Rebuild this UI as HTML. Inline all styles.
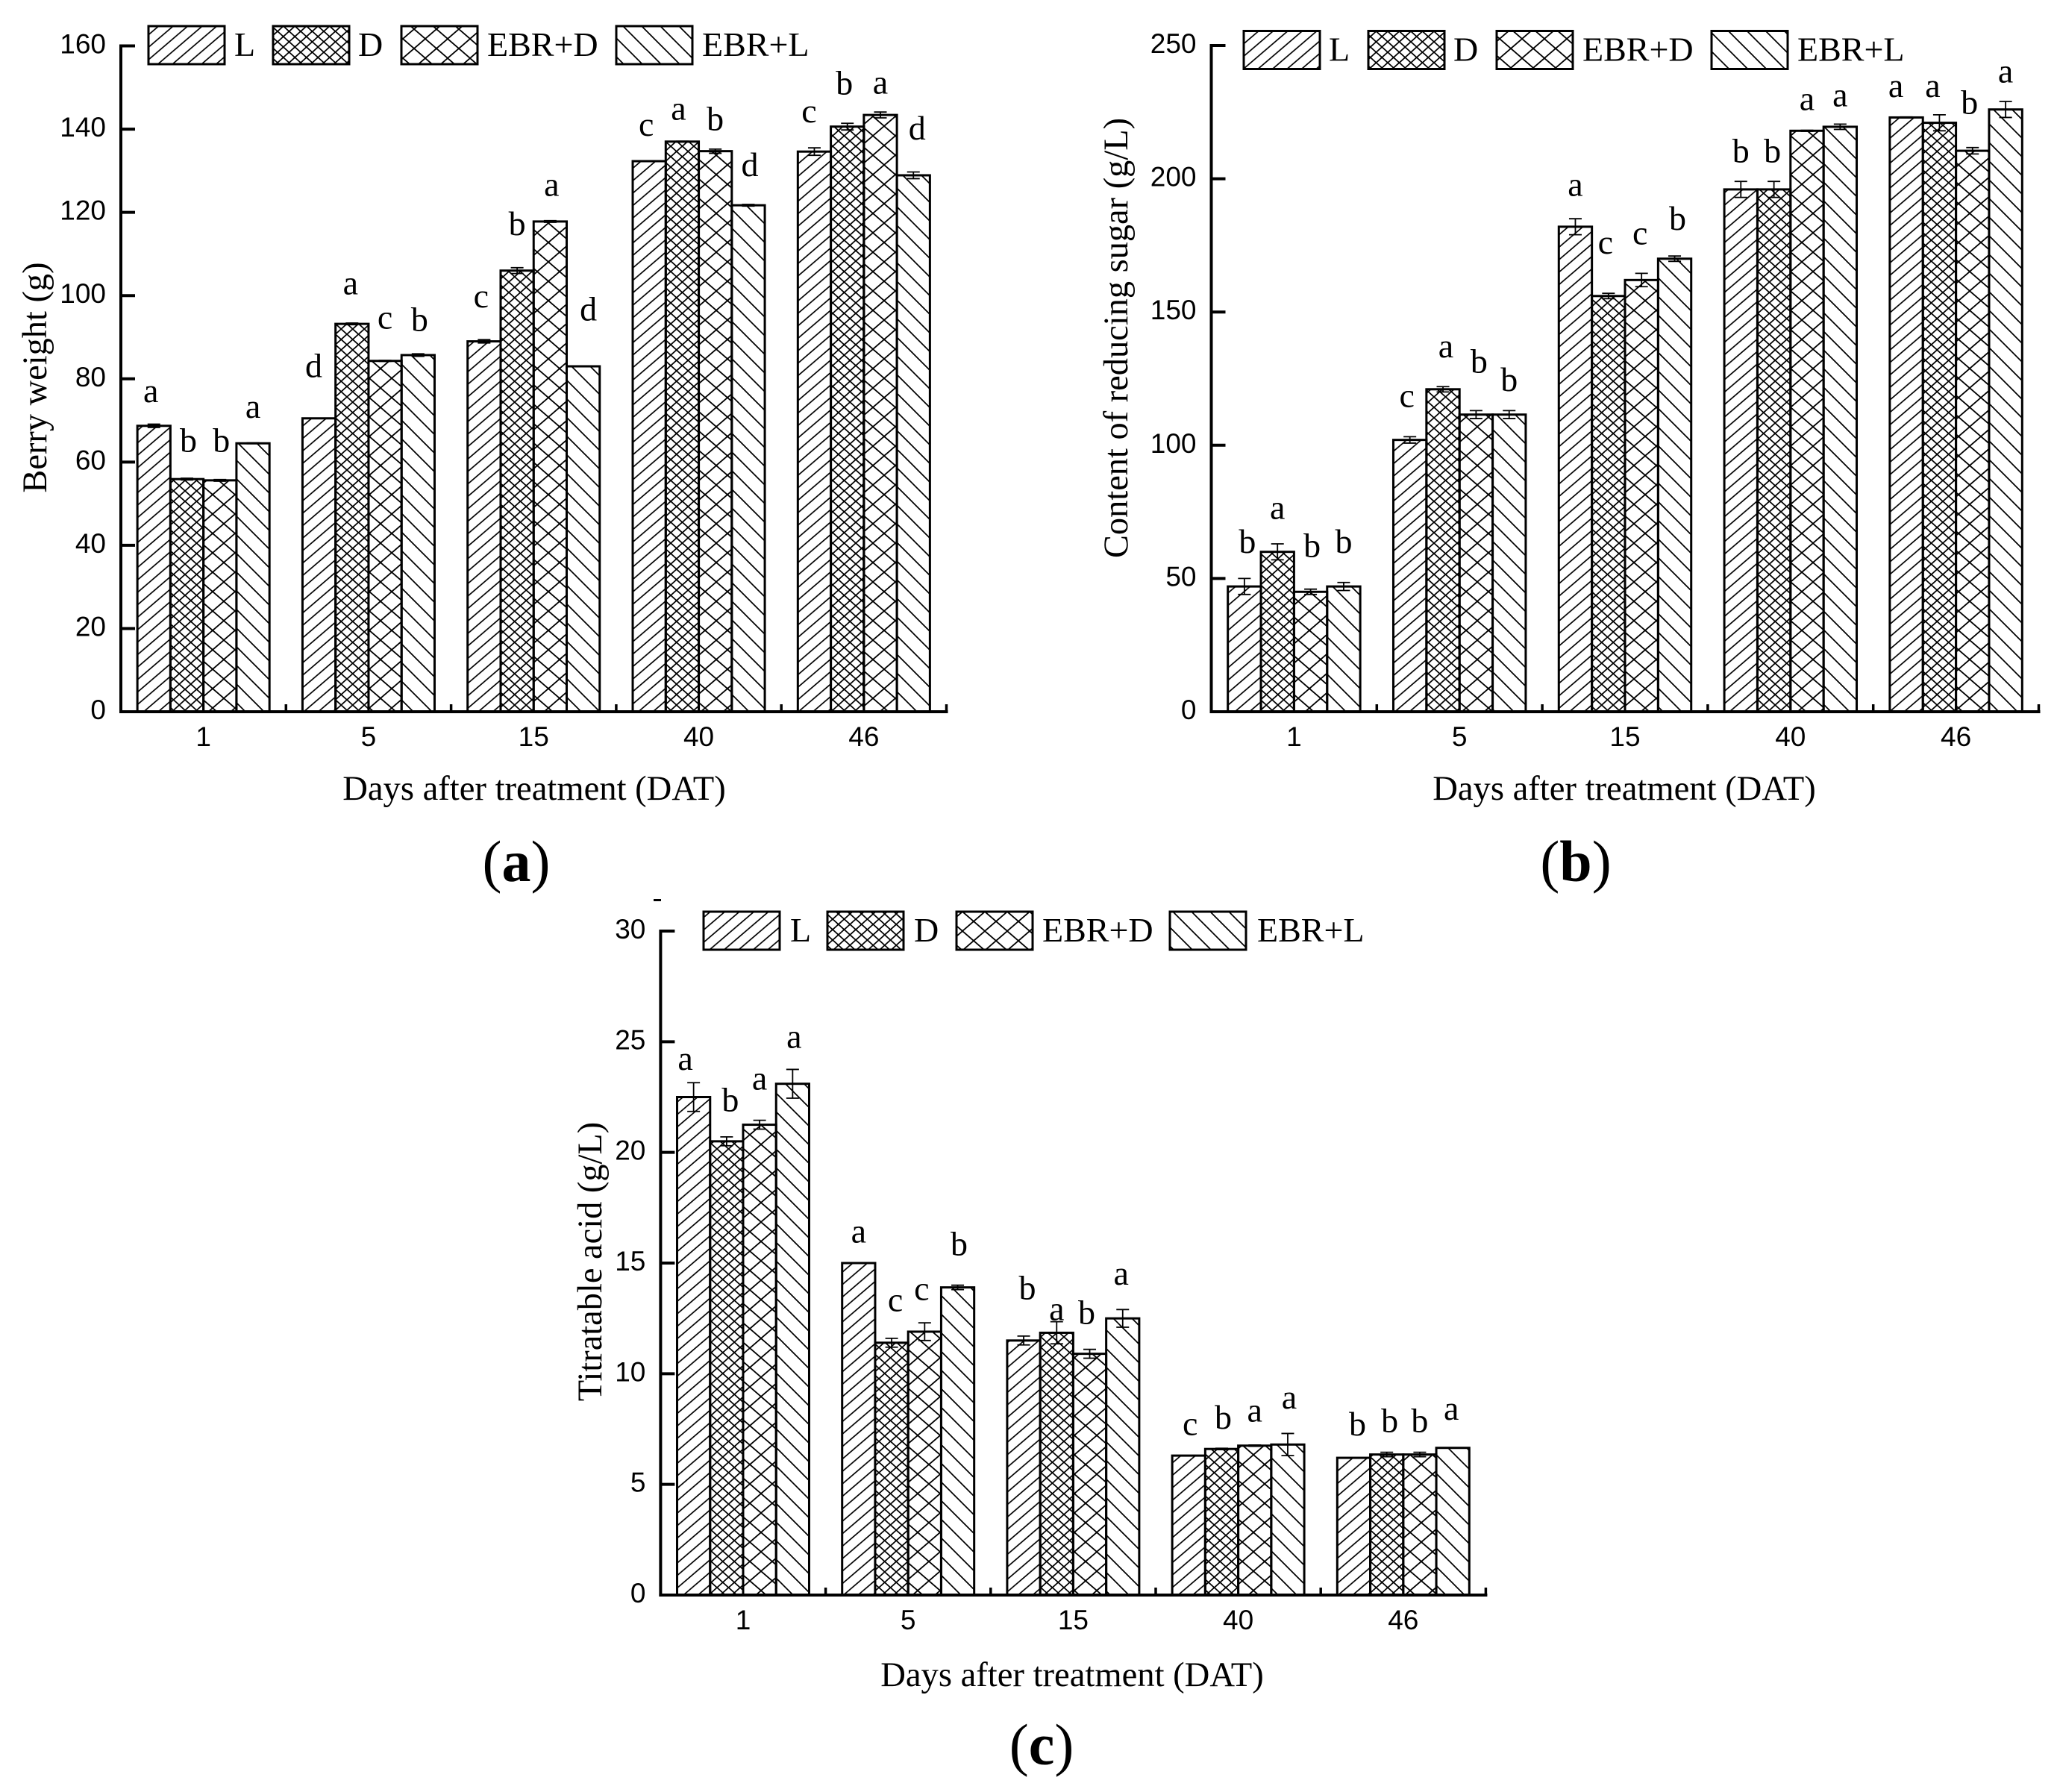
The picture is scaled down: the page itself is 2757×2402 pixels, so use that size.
<!DOCTYPE html>
<html lang="en">
<head>
<meta charset="utf-8">
<title>Berry weight, reducing sugar and titratable acid</title>
<style>
html,body{margin:0;padding:0;background:#fff;}
#figure{display:block;width:2757px;height:2402px;}
.serif{font-family:"Liberation Serif",serif;}
.sans{font-family:"Liberation Sans",sans-serif;}
</style>
</head>
<body>
<svg id="figure" xmlns="http://www.w3.org/2000/svg" width="2757" height="2402" viewBox="0 0 2757 2402">
<defs>
<pattern id="hatch-l" patternUnits="userSpaceOnUse" width="19.5" height="16.7"><path d="M-2 18.4L21.5 -1.7" stroke="#000" stroke-width="1.7" fill="none"/><path d="M-2 1.7L2 -1.7M17.5 18.4L21.5 15" stroke="#000" stroke-width="1.7" fill="none"/></pattern>
<pattern id="hatch-d" patternUnits="userSpaceOnUse" width="15.5" height="14"><path d="M-1 15L16.5 -1M-1 -1L16.5 15" stroke="#000" stroke-width="1.7" fill="none"/></pattern>
<pattern id="hatch-ed" patternUnits="userSpaceOnUse" width="30" height="26"><path d="M-2 27.7L32 -1.7M-2 -1.7L32 27.7" stroke="#000" stroke-width="1.8" fill="none"/></pattern>
<pattern id="hatch-el" patternUnits="userSpaceOnUse" width="25" height="25"><path d="M-2 -2L27 27M-2 23L2 27M23 -2L27 2" stroke="#000" stroke-width="1.7" fill="none"/></pattern>
</defs>
</svg>
<script>
const categories = ['1', '5', '15', '40', '46'];
const seriesNames = ['L', 'D', 'EBR+D', 'EBR+L'];

const weightTicks = [0, 20, 40, 60, 80, 100, 120, 140, 160];
const weightL = [68.7, 70.5, 89, 132.3, 134.6];
const weightD = [55.9, 93.2, 106, 137, 140.6];
const weightEbrD = [55.6, 84.3, 117.8, 134.7, 143.4];
const weightEbrL = [64.5, 85.7, 83, 121.7, 128.9];
const weightErrL = [0.4, 0, 0.4, 0.1, 0.9];
const weightErrD = [0.2, 0.2, 0.7, 0.1, 0.8];
const weightErrEbrD = [0.2, 0.1, 0.2, 0.5, 0.7];
const weightErrEbrL = [0.1, 0.3, 0.1, 0.2, 0.8];
const weightSigL = ['a', 'd', 'c', 'c', 'c'];
const weightSigD = ['b', 'a', 'b', 'a', 'b'];
const weightSigEbrD = ['b', 'c', 'a', 'b', 'a'];
const weightSigEbrL = ['a', 'b', 'd', 'd', 'd'];
const weightSigLevelL = [76.4, 83.3, 99.1, 140.4, 143.6];
const weightSigLevelD = [65.3, 102.3, 117.4, 144.2, 151.2];
const weightSigLevelEbrD = [65.3, 94, 125.9, 142.6, 150.5];
const weightSigLevelEbrL = [72.6, 94.4, 96.9, 131.6, 140.4];

const sugarTicks = [0, 50, 100, 150, 200, 250];
const sugarL = [47, 102, 182, 196, 223];
const sugarD = [60, 121, 156, 196, 221];
const sugarEbrD = [45, 111.5, 162, 218, 210.5];
const sugarEbrL = [47, 111.5, 170, 219.5, 226];
const sugarErrL = [3, 1.2, 3, 3, 0.2];
const sugarErrD = [3, 1, 1, 3, 3];
const sugarErrEbrD = [1, 1.5, 2.5, 0.2, 1.2];
const sugarErrEbrL = [1.5, 1.5, 1, 1, 3];
const sugarSigL = ['b', 'c', 'a', 'b', 'a'];
const sugarSigD = ['a', 'a', 'c', 'b', 'a'];
const sugarSigEbrD = ['b', 'b', 'c', 'a', 'b'];
const sugarSigEbrL = ['b', 'b', 'b', 'a', 'a'];
const sugarSigLevelL = [64.1, 117.4, 196.7, 210.6, 233.7];
const sugarSigLevelD = [75.4, 136.1, 175, 210.6, 233.7];
const sugarSigLevelEbrD = [62.6, 131.7, 178.5, 228.8, 228.8];
const sugarSigLevelEbrL = [64.1, 124.8, 185.4, 230.3, 239.2];

const acidTicks = [0, 5, 10, 15, 20, 25, 30];
const acidL = [22.5, 15, 11.5, 6.3, 6.2];
const acidD = [20.5, 11.4, 11.85, 6.6, 6.35];
const acidEbrD = [21.25, 11.9, 10.9, 6.75, 6.35];
const acidEbrL = [23.1, 13.9, 12.5, 6.8, 6.65];
const acidErrL = [0.65, 0, 0.2, 0, 0];
const acidErrD = [0.2, 0.2, 0.5, 0.03, 0.1];
const acidErrEbrD = [0.2, 0.4, 0.2, 0.03, 0.1];
const acidErrEbrL = [0.65, 0.1, 0.4, 0.5, 0];
const acidSigL = ['a', 'a', 'b', 'c', 'b'];
const acidSigD = ['b', 'c', 'a', 'b', 'b'];
const acidSigEbrD = ['a', 'c', 'b', 'a', 'b'];
const acidSigEbrL = ['a', 'b', 'a', 'a', 'a'];
const acidSigLevelL = [24.1, 16.3, 13.9, 7.6, 7.75];
const acidSigLevelD = [22.4, 13.2, 12.8, 8.05, 7.9];
const acidSigLevelEbrD = [23.2, 13.7, 12.8, 8.2, 7.9];
const acidSigLevelEbrL = [25.1, 15.9, 14.4, 8.8, 8.3];

const svg = document.getElementById('figure');
const NS = 'http://www.w3.org/2000/svg';
const patternIds = ['hatch-l', 'hatch-d', 'hatch-ed', 'hatch-el'];
const seriesKeys = ['l', 'd', 'ebr-d', 'ebr-l'];

function mk(parent, tag, attrs, content) {
  const el = document.createElementNS(NS, tag);
  for (const k in attrs) el.setAttribute(k, attrs[k]);
  if (content !== undefined) el.textContent = content;
  parent.appendChild(el);
  return el;
}

function drawPanel(cfg) {
  const g = mk(svg, 'g', {});
  
  

  const yScale = function (v) { return cfg.y0 - (v / cfg.max) * (cfg.y0 - cfg.yTop); };
  const groupLeft = function (i) { return cfg.x0 + i * cfg.period; };
  const barX = function (i, s) { return groupLeft(i) + cfg.period * 0.1 + s * cfg.period * 0.2; };
  const barW = cfg.period * 0.2;

  // bars
  for (let s = 0; s < 4; s++) {
    for (let i = 0; i < categories.length; i++) {
      const v = cfg.values[s][i];
      const bar = mk(g, 'rect', {x: barX(i, s), y: yScale(v), width: barW, height: cfg.y0 - yScale(v), fill: 'url(#' + patternIds[s] + ')', stroke: '#000', 'stroke-width': 3});
      
      
    }
  }
  // error bars and significance letters
  for (let s = 0; s < 4; s++) {
    for (let i = 0; i < categories.length; i++) {
      const v = cfg.values[s][i];
      const e = cfg.errors[s][i];
      const cx = barX(i, s) + barW / 2;
      if (e > 0) {
        const err = mk(g, 'path', {d: 'M' + (cx - 8.5) + ' ' + yScale(v + e) + 'H' + (cx + 8.5) + 'M' + cx + ' ' + yScale(v + e) + 'V' + yScale(v - e) + 'M' + (cx - 8.5) + ' ' + yScale(v - e) + 'H' + (cx + 8.5), stroke: '#000', 'stroke-width': 1.8, fill: 'none'});
        
        
      }
      const letter = cfg.letters[s][i];
      const drop = (letter === 'b' || letter === 'd') ? 16 : 11;
      const sig = mk(g, 'text', {x: cx + cfg.letterNudge[i][s], y: yScale(cfg.levels[s][i]) + drop, 'text-anchor': 'middle', class: 'serif', 'font-size': 46, fill: '#000'}, letter);
      
      
    }
  }
  // axes
  const yAxis = mk(g, 'line', {x1: cfg.x0, x2: cfg.x0, y1: cfg.yTop - 2, y2: cfg.y0 + 2, stroke: '#000', 'stroke-width': 4});
  
  
  const xAxis = mk(g, 'line', {x1: cfg.x0 - 2, x2: groupLeft(categories.length) + 2, y1: cfg.y0, y2: cfg.y0, stroke: '#000', 'stroke-width': 4});
  
  

  cfg.ticks.forEach(function (t) {
    const tick = mk(g, 'line', {x1: cfg.x0, x2: cfg.x0 + 19, y1: yScale(t), y2: yScale(t), stroke: '#000', 'stroke-width': 4});
    
    
    const lab = mk(g, 'text', {x: cfg.x0 - 20, y: yScale(t) + 10, 'text-anchor': 'end', class: 'sans', 'font-size': 37, fill: '#000'}, String(t));
    
    
  });
  categories.forEach(function (c, i) {
    const tick = mk(g, 'line', {x1: groupLeft(i + 1), x2: groupLeft(i + 1), y1: cfg.y0, y2: cfg.y0 - 10, stroke: '#000', 'stroke-width': 3.5});
    
    
    const lab = mk(g, 'text', {x: groupLeft(i) + cfg.period / 2, y: cfg.y0 + 46, 'text-anchor': 'middle', class: 'sans', 'font-size': 37, fill: '#000'}, c);
    
    
  });

  const xTitle = mk(g, 'text', {x: cfg.xTitleX, y: cfg.y0 + cfg.xTitleDrop, 'text-anchor': 'middle', class: 'serif', 'font-size': 46.6, fill: '#000'}, 'Days after treatment (DAT)');
  
  
  const yTitle = mk(g, 'text', {transform: 'translate(' + cfg.yTitleX + ' ' + cfg.yTitleY + ') rotate(-90)', 'text-anchor': 'middle', class: 'serif', 'font-size': 46.4, fill: '#000'}, cfg.yTitle);
  
  

  // legend
  const legend = mk(g, 'g', {});
  
  
  seriesNames.forEach(function (name, s) {
    const swatch = mk(legend, 'rect', {x: cfg.legendBoxX[s], y: cfg.legendY, width: 102, height: 51, fill: 'url(#' + patternIds[s] + ')', stroke: '#000', 'stroke-width': 3});
    
    
    const txt = mk(legend, 'text', {x: cfg.legendTextX[s], y: cfg.legendY + 40, class: 'serif', 'font-size': 46, fill: '#000'}, name);
    
    
  });

  // panel label
  const panel = mk(g, 'text', {x: cfg.panelX, y: cfg.panelY, 'text-anchor': 'middle', class: 'serif', 'font-size': 78, fill: '#000'});
  
  
  mk(panel, 'tspan', {}, '(');
  mk(panel, 'tspan', {'font-weight': 'bold'}, cfg.id);
  mk(panel, 'tspan', {}, ')');
}

drawPanel({
  id: 'a', x0: 162, y0: 954, yTop: 61.5, max: 160, period: 221.3, ticks: weightTicks,
  values: [weightL, weightD, weightEbrD, weightEbrL],
  errors: [weightErrL, weightErrD, weightErrEbrD, weightErrEbrL],
  letters: [weightSigL, weightSigD, weightSigEbrD, weightSigEbrL],
  levels: [weightSigLevelL, weightSigLevelD, weightSigLevelEbrD, weightSigLevelEbrL],
  letterNudge: [[-4, 2, 2, 0], [-7, -2, 0, 2], [-4, 0, 2, 7], [-4, -5, 0, 2], [-7, -4, 0, 5]],
  xTitleX: 716, xTitleDrop: 118, yTitle: 'Berry weight (g)', yTitleX: 62, yTitleY: 506,
  legendY: 35, legendBoxX: [199, 366, 538, 826], legendTextX: [314, 480, 653, 941],
  panelX: 692, panelY: 1181
});
drawPanel({
  id: 'b', x0: 1623.5, y0: 954, yTop: 61, max: 250, period: 221.8, ticks: sugarTicks,
  values: [sugarL, sugarD, sugarEbrD, sugarEbrL],
  errors: [sugarErrL, sugarErrD, sugarErrEbrD, sugarErrEbrL],
  letters: [sugarSigL, sugarSigD, sugarSigEbrD, sugarSigEbrL],
  levels: [sugarSigLevelL, sugarSigLevelD, sugarSigLevelEbrD, sugarSigLevelEbrL],
  letterNudge: [[4, 0, 2, 0], [-4, 4, 4, 0], [0, -4, -2, 4], [0, -2, 0, 0], [-14, -9, -4, 0]],
  xTitleX: 2177, xTitleDrop: 118, yTitle: 'Content of reducing sugar (g/L)', yTitleX: 1511, yTitleY: 453,
  legendY: 41.5, legendBoxX: [1667, 1834, 2006, 2294], legendTextX: [1781, 1948, 2121, 2409],
  panelX: 2112, panelY: 1181
});
drawPanel({
  id: 'c', x0: 885.4, y0: 2138, yTop: 1248, max: 30, period: 221.2, ticks: acidTicks,
  values: [acidL, acidD, acidEbrD, acidEbrL],
  errors: [acidErrL, acidErrD, acidErrEbrD, acidErrEbrL],
  letters: [acidSigL, acidSigD, acidSigEbrD, acidSigEbrL],
  levels: [acidSigLevelL, acidSigLevelD, acidSigLevelEbrD, acidSigLevelEbrL],
  letterNudge: [[-11, 5, 0, 2], [0, 5, -4, 2], [5, 0, -4, -2], [2, 2, 0, 2], [5, 4, 0, -2]],
  xTitleX: 1437, xTitleDrop: 122, yTitle: 'Titratable acid (g/L)', yTitleX: 806, yTitleY: 1691,
  legendY: 1222, legendBoxX: [943, 1109, 1282, 1568], legendTextX: [1059, 1225, 1397, 1685],
  panelX: 1396, panelY: 2365
});

const speck = document.createElementNS(NS, 'rect');
speck.setAttribute('x', 876);
speck.setAttribute('y', 1205);
speck.setAttribute('width', 10);
speck.setAttribute('height', 3);
speck.setAttribute('fill', '#000');


svg.appendChild(speck);
</script>
</body>
</html>
